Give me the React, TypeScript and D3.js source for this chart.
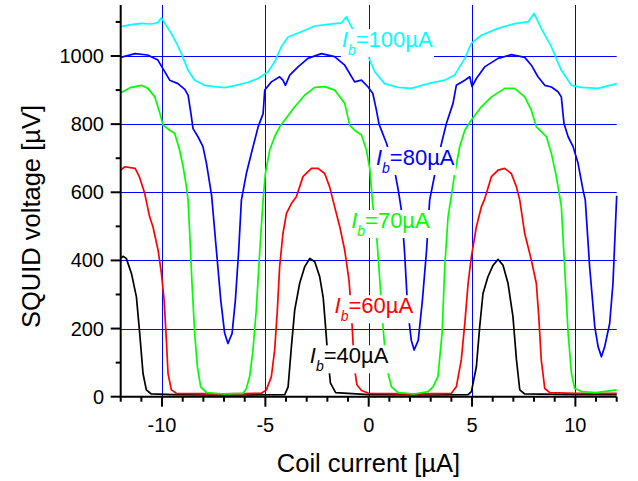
import React, { useEffect, useRef } from "react";
import * as d3 from "d3";

// ---------- data (coil current µA, SQUID voltage µV) ----------
const i40: [number, number][] = [
  [-12, 406], [-11.89, 412], [-11.73, 406], [-11.48, 362], [-11.24, 293], [-11.08, 186],
  [-10.92, 68], [-10.76, 20], [-10.52, 8], [-9.5, 6], [-8, 5], [-6, 5], [-4.06, 6],
  [-3.9, 29], [-3.74, 147], [-3.58, 254], [-3.34, 333], [-3.1, 381], [-2.85, 406],
  [-2.61, 396], [-2.37, 352], [-2.2, 290], [-2.08, 200], [-1.97, 110], [-1.85, 40],
  [-1.6, 12], [0, 6], [3, 5], [4.81, 6], [4.97, 15], [5.21, 88], [5.37, 205], [5.53, 303],
  [5.77, 352], [6.02, 386], [6.26, 403], [6.5, 386], [6.74, 333], [6.98, 235], [7.15, 108],
  [7.31, 20], [7.55, 8], [10, 6], [12, 6],
];

const i60: [number, number][] = [
  [-12, 665], [-11.8, 675], [-11.3, 670], [-11.1, 646], [-10.84, 597], [-10.6, 528],
  [-10.44, 499], [-10.19, 430], [-10.03, 362], [-9.9, 284], [-9.79, 166], [-9.71, 68],
  [-9.55, 20], [-9.31, 10], [-7, 8], [-5.19, 10], [-4.95, 20], [-4.71, 59], [-4.55, 137],
  [-4.42, 254], [-4.31, 381], [-4.15, 479], [-3.98, 538], [-3.74, 567], [-3.5, 587],
  [-3.18, 646], [-2.77, 670], [-2.45, 670], [-2.13, 655], [-1.89, 616], [-1.73, 577],
  [-1.4, 499], [-1.16, 430], [-0.95, 340], [-0.84, 250], [-0.76, 160], [-0.68, 80],
  [-0.57, 35], [-0.35, 18], [0, 10], [2, 8], [4.0, 10], [4.24, 29], [4.48, 108], [4.65, 215],
  [4.81, 333], [4.97, 411], [5.21, 499], [5.45, 557], [5.61, 580], [5.94, 646], [6.26, 665],
  [6.58, 670], [6.9, 655], [7.15, 616], [7.31, 577], [7.55, 479], [7.87, 401], [8.11, 333],
  [8.23, 235], [8.35, 108], [8.52, 24], [8.76, 12], [10, 10], [12, 10],
];

const i70: [number, number][] = [
  [-12, 892], [-11.5, 908], [-11, 914], [-10.68, 905], [-10.35, 880], [-10.1, 831],
  [-9.95, 797], [-9.63, 782], [-9.39, 773], [-9.15, 724], [-8.98, 675], [-8.82, 616],
  [-8.74, 577], [-8.66, 479], [-8.55, 333], [-8.42, 186], [-8.29, 88], [-8.13, 29],
  [-7.85, 12], [-7.0, 8], [-6.08, 10], [-5.92, 24], [-5.76, 59], [-5.6, 137], [-5.44, 254],
  [-5.27, 430], [-5.11, 577], [-5.0, 655], [-4.79, 724], [-4.55, 763], [-4.31, 792],
  [-4.06, 812], [-3.58, 851], [-3.1, 885], [-2.61, 908], [-2.13, 910], [-1.65, 900],
  [-1.16, 861], [-0.92, 797], [-0.68, 782], [-0.35, 768], [-0.11, 724], [0.05, 670],
  [0.2, 560], [0.4, 460], [0.55, 330], [0.7, 200], [0.85, 90], [1.1, 29], [1.42, 12],
  [2.2, 8], [2.87, 15], [3.11, 29], [3.35, 59], [3.55, 186], [3.68, 382], [3.84, 528],
  [4.0, 590], [4.16, 655], [4.4, 733], [4.65, 782], [4.97, 812], [5.45, 851], [5.94, 880],
  [6.58, 905], [7.06, 905], [7.55, 880], [7.87, 841], [8.11, 792], [8.35, 778], [8.6, 763],
  [8.84, 714], [9.08, 646], [9.24, 587], [9.32, 560], [9.48, 382], [9.65, 186], [9.81, 68],
  [9.97, 24], [10.29, 15], [11, 12], [12, 20],
];

const i80: [number, number][] = [
  [-12, 996], [-11.3, 1007], [-10.7, 1003], [-10.2, 988], [-9.87, 954], [-9.63, 929],
  [-9.23, 919], [-8.9, 902], [-8.74, 885], [-8.6, 831], [-8.5, 787], [-8.26, 763],
  [-8.02, 734], [-7.85, 685], [-7.6, 590], [-7.37, 430], [-7.16, 284], [-6.97, 186],
  [-6.81, 156], [-6.61, 186], [-6.45, 284], [-6.29, 430], [-6.16, 577], [-5.92, 655],
  [-5.68, 714], [-5.35, 792], [-5.11, 831], [-5.03, 900], [-4.71, 924], [-4.31, 939],
  [-4.15, 929], [-4.03, 914], [-3.82, 944], [-3.42, 968], [-2.94, 993], [-2.29, 1007],
  [-1.65, 998], [-1.16, 973], [-0.68, 924], [-0.35, 929], [-0.03, 909], [0.2, 890],
  [0.37, 842], [0.5, 800], [0.86, 744], [1.26, 662], [1.45, 600], [1.6, 540], [1.74, 420],
  [1.89, 254], [2.06, 166], [2.2, 137], [2.4, 166], [2.6, 284], [2.8, 430], [2.95, 577],
  [3.27, 675], [3.52, 743], [3.76, 802], [4.08, 861], [4.24, 914], [4.65, 929], [4.89, 939],
  [5.0, 910], [5.21, 934], [5.61, 968], [6.26, 993], [6.9, 1004], [7.55, 996], [7.87, 973],
  [8.19, 939], [8.52, 914], [8.84, 909], [9.16, 895], [9.32, 880], [9.45, 802], [9.65, 763],
  [9.89, 734], [10.13, 685], [10.37, 607], [10.48, 577], [10.69, 382], [10.94, 205],
  [11.1, 147], [11.26, 117], [11.42, 147], [11.66, 215], [11.82, 333], [12, 590],
];

const i100: [number, number][] = [
  [-12, 1086], [-11.5, 1092], [-11, 1096], [-10.5, 1094], [-10.2, 1098], [-10.03, 1112],
  [-9.8, 1090], [-9.55, 1066], [-9.3, 1038], [-9.06, 1007], [-8.74, 958], [-8.42, 929],
  [-7.94, 914], [-7.45, 910], [-6.97, 907], [-6.48, 913], [-5.84, 923], [-5.35, 934],
  [-4.87, 954], [-4.55, 983], [-4.23, 1027], [-3.9, 1056], [-3.26, 1071], [-2.61, 1088],
  [-1.97, 1093], [-1.32, 1097], [-1.08, 1115], [-0.84, 1086], [-0.5, 1050], [-0.25, 1020],
  [-0.03, 1000], [0.29, 954], [0.77, 919], [1.42, 908], [2.06, 905], [3.03, 921],
  [3.68, 929], [4.16, 944], [4.65, 993], [4.97, 1037], [5.45, 1061], [6.26, 1081],
  [7.06, 1095], [7.71, 1100], [8.0, 1125], [8.35, 1081], [8.84, 1027], [9.32, 958],
  [9.81, 914], [10.29, 908], [11.1, 905], [12, 919],
];

const seriesData = [i40, i60, i70, i80, i100];
const seriesColors = ["#000000", "#ff0000", "#00ff00", "#0000ff", "#00ffff"];
const labelValues = ["40", "60", "70", "80", "100"];
// label anchor positions in data units [x µA, y µV]
const labelPos: [number, number][] = [
  [-2.85, 98], [-1.65, 245], [-0.85, 495], [0.35, 680], [-1.3, 1026],
];

const xMajorTicks = [-10, -5, 0, 5, 10];
const xMinorTicks = d3.range(-12, 13, 1);
const yMajorTicks = [0, 200, 400, 600, 800, 1000];
const yMinorTicks = d3.range(0, 1101, 100);

const xTitle = "Coil current [µA]";
const yTitle = "SQUID voltage [µV]";

const FONT = "'Liberation Sans', Arial, sans-serif";

export default function App() {
  const ref = useRef<SVGSVGElement | null>(null);

  useEffect(() => {
    const svg = d3.select(ref.current);
    svg.selectAll("*").remove();

    const left = 120.7, right = 616.7, top = 4.9, bottom = 396.7;
    const x = d3.scaleLinear().domain([-12, 12]).range([left, right]);
    const y = d3.scaleLinear().domain([0, 1150]).range([bottom, top]);

    svg.append("rect").attr("width", 638).attr("height", 481).attr("fill", "#fff");

    // grid
    const grid = svg.append("g").attr("stroke", "#0000ff").attr("stroke-width", 1);
    xMajorTicks.forEach((t) => {
      grid.append("line").attr("x1", Math.round(x(t)) + 0.5).attr("x2", Math.round(x(t)) + 0.5)
        .attr("y1", top).attr("y2", bottom);
    });
    yMajorTicks.filter((t) => t > 0).forEach((t) => {
      grid.append("line").attr("x1", left).attr("x2", right)
        .attr("y1", Math.round(y(t)) + 0.5).attr("y2", Math.round(y(t)) + 0.5);
    });

    // curves
    const line = d3.line<[number, number]>().x((d) => x(d[0])).y((d) => y(d[1]));
    seriesData.forEach((s, i) => {
      svg.append("path").attr("d", line(s) as string).attr("fill", "none")
        .attr("stroke", seriesColors[i]).attr("stroke-width", 1.7)
        .attr("stroke-linejoin", "round");
    });

    // labels
    labelValues.forEach((v, i) => {
      const g = svg.append("g");
      const t = g.append("text")
        .attr("x", x(labelPos[i][0])).attr("y", y(labelPos[i][1]))
        .attr("font-family", FONT).attr("font-size", 22).attr("fill", seriesColors[i]);
      t.append("tspan").attr("font-style", "italic").text("I");
      t.append("tspan").attr("font-style", "italic").attr("font-size", 14).attr("dy", 8).text("b");
      t.append("tspan").attr("dy", -8).text(`=${v}µA`);
      const bb = (t.node() as SVGTextElement).getBBox();
      g.insert("rect", "text").attr("x", bb.x - 1).attr("y", bb.y + 2)
        .attr("width", bb.width + 2).attr("height", bb.height - 3).attr("fill", "#fff");
    });

    // axes
    const ax = svg.append("g").attr("stroke", "#000").attr("stroke-width", 2);
    ax.append("line").attr("x1", left).attr("x2", left).attr("y1", top).attr("y2", bottom + 1);
    ax.append("line").attr("x1", left - 1).attr("x2", right).attr("y1", bottom).attr("y2", bottom);
    xMinorTicks.forEach((t) => {
      const len = xMajorTicks.includes(t) ? 10 : 5;
      ax.append("line").attr("x1", x(t)).attr("x2", x(t)).attr("y1", bottom).attr("y2", bottom + len);
    });
    yMinorTicks.forEach((t) => {
      const len = yMajorTicks.includes(t) ? 10 : 5;
      ax.append("line").attr("x1", left).attr("x2", left - len).attr("y1", y(t)).attr("y2", y(t));
    });

    const lab = svg.append("g").attr("font-family", FONT).attr("font-size", 20).attr("fill", "#000");
    xMajorTicks.forEach((t) => {
      lab.append("text").attr("x", x(t)).attr("y", 431.5).attr("text-anchor", "middle")
        .text(t < 0 ? `-${Math.abs(t)}` : `${t}`);
    });
    yMajorTicks.forEach((t) => {
      lab.append("text").attr("x", 104).attr("y", y(t) + 7).attr("text-anchor", "end").text(`${t}`);
    });

    svg.append("text").attr("x", 368.5).attr("y", 472).attr("text-anchor", "middle")
      .attr("font-family", FONT).attr("font-size", 25.5).text(xTitle);
    svg.append("text").attr("transform", "translate(40,216.5) rotate(-90)")
      .attr("text-anchor", "middle").attr("font-family", FONT).attr("font-size", 25.5).text(yTitle);
  }, []);

  return (
    <svg ref={ref} width={638} height={481}
      style={{ position: "absolute", left: 0, top: 0, display: "block" }} />
  );
}
